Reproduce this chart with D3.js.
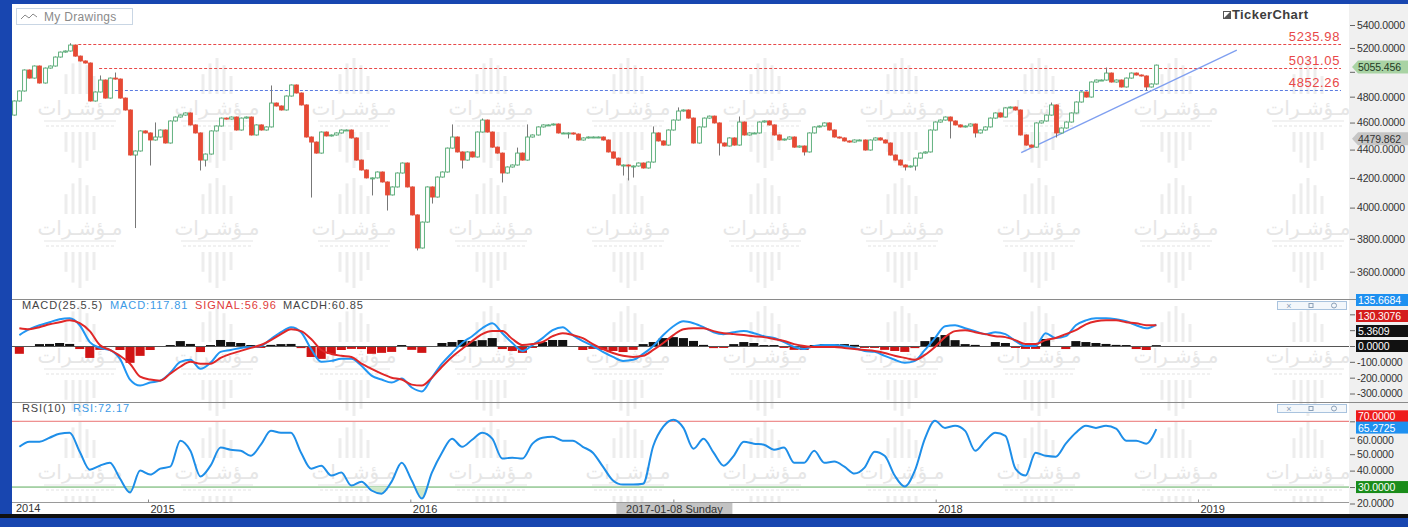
<!DOCTYPE html>
<html><head><meta charset="utf-8">
<script src="https://cdn.jsdelivr.net/npm/d3@7"></script>
<style>
html,body{margin:0;padding:0;background:#fff;overflow:hidden}
svg{display:block;font-family:"Liberation Sans",Arial,sans-serif}
</style></head><body>
<svg id="c" width="1408" height="527"></svg>
<script>
// ---------------- DATA ----------------
const firstWeek = Date.UTC(2014, 5, 29);   // weekly candles, Sundays
const firstOpen = 4657;
const closes = [
4766,4845,5015,4949,5048,4909,5031,5048,5123,5165,
5174,5225,5131,5090,5073,4766,4837,4933,4789,4949,
4941,4789,4696,4361,4390,4537,4522,4470,4492,4544,
4448,4612,4642,4657,4673,4582,4522,4325,4368,4537,
4574,4634,4627,4642,4544,4634,4642,4507,4582,4544,
4567,4750,4727,4696,4805,4893,4829,4735,4492,4455,
4375,4529,4500,4507,4522,4544,4544,4485,4325,4255,
4200,4200,4241,4172,4084,4138,4234,4304,4138,3952,
3743,3906,4138,4070,4206,4241,4411,4492,4383,4325,
4383,4347,4529,4619,4529,4418,4375,4234,4276,4290,
4375,4325,4492,4507,4567,4582,4582,4589,4522,4522,
4522,4514,4470,4485,4492,4492,4492,4470,4383,4339,
4290,4290,4283,4283,4304,4269,4311,4522,4463,4433,
4544,4619,4688,4696,4634,4448,4567,4634,4649,4597,
4448,4426,4485,4433,4604,4507,4522,4522,4604,4612,
4582,4507,4470,4477,4492,4418,4426,4383,4522,4567,
4574,4597,4544,4492,4485,4463,4455,4470,4470,4397,
4470,4485,4470,4448,4361,4325,4290,4276,4283,4339,
4375,4383,4544,4604,4619,4642,4612,4582,4567,4574,
4589,4522,4544,4567,4634,4673,4642,4712,4719,4696,
4507,4433,4418,4597,4612,4657,4735,4522,4559,4604,
4673,4758,4837,4797,4917,4933,4933,4990,4917,4933,
4877,4949,4990,4974,4966,4877,4901,5055.456
];
// notable wick extremes [candle index, price]
const wickHighs = [[11,5236],[17,4966],[20,4990],[28,4597],[51,4885],[87,4582],[93,4627],
  [100,4411],[102,4582],[127,4567],[132,4712],[144,4642],[206,4750],[217,5031]];
const wickLows = [[24,3871],[27,4290],[37,4255],[38,4283],[59,4070],[71,4084],[74,3984],
  [80,3731],[83,4030],[89,4269],[97,4172],[110,4485],[121,4220],[122,4186],[123,4206],
  [140,4361],[157,4361],[177,4255],[179,4255],[186,4485],[191,4492],[207,4492],[225,4853]];

// indicators read every second week (candle index 1,3,5,...,227)
const macdLine = [
69,106,131,150,169,175,131,25,-12,-25,
-81,-212,-250,-231,-219,-169,-100,-87,-144,-106,
-37,-25,-12,-6,0,44,87,119,87,-19,
-100,-94,-81,-81,-125,-187,-212,-231,-206,-262,
-287,-200,-112,-44,19,62,112,144,81,19,
-31,6,50,100,119,69,31,0,-37,-69,
-94,-87,-50,0,69,125,156,144,119,87,
75,87,94,81,62,50,25,-6,-19,0,
6,6,0,-12,-31,-37,-62,-87,-106,-94,
-25,50,125,131,112,94,75,87,75,31,
0,0,81,50,62,131,162,175,175,169,
156,131,112,135.67];
const signalLine = [
112,106,119,137,150,162,144,94,6,-25,
-62,-112,-194,-212,-219,-175,-131,-100,-112,-112,
-75,-50,-31,-12,6,37,75,106,94,44,
-25,-50,-62,-69,-112,-144,-175,-200,-212,-244,
-250,-200,-131,-69,-19,31,75,94,94,44,
6,12,25,62,81,69,50,12,-19,-44,
-62,-69,-62,-25,19,69,106,112,112,94,
81,75,69,62,56,44,31,12,0,-6,
-6,-6,-12,-19,-25,-31,-44,-62,-75,-87,
-56,-6,56,94,100,87,75,62,56,37,
12,12,37,50,75,100,137,156,162,162,
150,144,131,130.31];
const rsiLine = [
54.5,57.6,57.6,60,62.4,63,51.5,40.6,43,44.8,
35.2,26.7,40,37.6,41.2,42.4,58.2,52.1,36.4,43,
54,52.7,52.1,49,55.8,64.2,63,63,50.9,41.2,
43,37,38.8,30.9,33.3,27.9,26,33.3,44.8,34,
23,38.8,50.9,59.4,54.5,58.8,63,59.4,47.3,47.9,
47.3,56.4,60,60.6,58.2,58.2,54.5,50.9,42.4,34,
31.5,31.5,32,55,66.7,70.9,66,53.3,59.4,50.9,
43,49,57.6,56.4,55.8,52.7,54,44.8,44.8,52.1,
44.8,45.5,42.4,38.2,41.8,51.5,49,37,30.3,40,
59.4,70.3,66,67.3,64.2,52.1,58.2,63,61.2,41.2,
37,50.9,49,48.5,56.4,63,67.3,66,67.3,65.5,
58.2,58.2,56.4,65.27];

const priceTicks = [5400,5200,5000,4800,4600,4400,4200,4000,3800,3600];
const priceTickLabels = [5400,5200,4800,4600,4400,4200,4000,3800,3600]; // 5000 sits under the last-price tag
const macdTicks = [200,100,0,-100,-200,-300];
const macdTickLabels = [-100,-200,-300];          // others sit under value tags
const rsiTicks = [70,60,50,40,30,20];
const rsiTickLabels = [60,50,40,20];
const yearTicks = [2015,2016,2017,2018,2019];
const levels = [
  {value:5235.98, from:Date.UTC(2014,8,26), color:"#e84848", label:"5235.98"},
  {value:5031.05, from:Date.UTC(2014,9,25), color:"#e84848", label:"5031.05"},
  {value:4852.26, from:Date.UTC(2014,10,9), color:"#5a7be0", label:"4852.26"}
];
const trendFrom = {date:Date.UTC(2018,3,30), price:4378};
const trendTo   = {date:Date.UTC(2019,1,24), price:5182};
const lastPrice = 5055.456, refPrice = 4479.862;
const macdLegend = {macd:"117.81", signal:"56.96", hist:"60.85"};
const rsiLegend = "72.17";
const macdNow = 135.6684, signalNow = 130.3076, macdHistNow = 5.3609, rsiNow = 65.2725;
const cursorDate = Date.UTC(2017,0,8), cursorLabel = "2017-01-08 Sunday";
const watermarkText = "مـؤشـرات";

// ---------------- SETUP ----------------
const W = 1408, H = 527, plotL = 12, plotR = 1349;
const svg = d3.select("#c");
const dates = closes.map((c,i)=> new Date(firstWeek + i*7*864e5));
const x = d3.scaleUtc().domain([new Date(Date.UTC(2015,0,1)), new Date(Date.UTC(2019,0,1))]).range([148,1198]);
const yP = d3.scaleLog().domain([3600,5400]).range([271.7,25]);
const yM = d3.scaleLinear().domain([-300,0]).range([393.5,346]);
const yR = d3.scaleLinear().domain([20,70]).range([503.5,421.3]);

svg.append("rect").attr("width",W).attr("height",H).attr("fill","#fff");
svg.append("rect").attr("x",plotR).attr("y",4).attr("width",W-plotR).attr("height",510).attr("fill","#f0f0f0");

const defs = svg.append("defs");
function clip(id,y,h){ defs.append("clipPath").attr("id",id).append("rect").attr("x",plotL).attr("y",y).attr("width",plotR-plotL).attr("height",h); }
clip("cMain",5,293); clip("cMacd",300,101); clip("cRsi",403,99);
clip("cAll",5,498);

// ---------------- WATERMARKS ----------------
const wm = svg.append("g").attr("clip-path","url(#cAll)");
const wmCols = [80,217,354,491,628,765,902,1039,1176,1308];
const wmRows = [108,228,356,472];
const barDx = [-14,-7,0,7,14], barH = [0.55,0.85,1,0.8,0.5];
wmCols.forEach(cx=>{
  wmRows.forEach(cy=>{
    wm.append("text").attr("x",cx).attr("y",cy+7).attr("text-anchor","middle")
      .attr("font-size",20).attr("fill","#e6e6e6").attr("font-family","'DejaVu Sans',sans-serif").text(watermarkText);
    wm.append("line").attr("x1",cx-36).attr("x2",cx+36).attr("y1",cy+13).attr("y2",cy+13).attr("stroke","#eeeeee").attr("stroke-width",1.5);
    wm.append("line").attr("x1",cx-34).attr("x2",cx+34).attr("y1",cy+18).attr("y2",cy+18).attr("stroke","#f1f1f1").attr("stroke-width",2).attr("stroke-dasharray","3,2");
    barDx.forEach((dx,k)=>{
      const h = 36*barH[k];
      wm.append("rect").attr("x",cx+dx-1.5).attr("y",cy-14-h).attr("width",3).attr("height",h).attr("fill","#ededed");
      wm.append("rect").attr("x",cx+dx-1.5).attr("y",cy+24).attr("width",3).attr("height",h).attr("fill","#ededed");
    });
  });
});

// ---------------- PANEL FRAMES ----------------
svg.append("line").attr("x1",plotL).attr("x2",W).attr("y1",299.5).attr("y2",299.5).attr("stroke","#8a8a8a");
svg.append("line").attr("x1",plotL).attr("x2",W).attr("y1",402.5).attr("y2",402.5).attr("stroke","#8a8a8a");
svg.append("line").attr("x1",plotL).attr("x2",plotR).attr("y1",502.5).attr("y2",502.5).attr("stroke","#9a9a9a");

// ---------------- MAIN PANEL ----------------
const gMain = svg.append("g").attr("clip-path","url(#cMain)");
levels.forEach(l=>{
  gMain.append("line").attr("x1",x(new Date(l.from))).attr("x2",1341)
    .attr("y1",Math.round(yP(l.value))+0.5).attr("y2",Math.round(yP(l.value))+0.5)
    .attr("stroke",l.color).attr("stroke-width",1).attr("stroke-dasharray","3,2");
  svg.append("text").attr("x",1340).attr("y",yP(l.value)-3).attr("text-anchor","end")
    .attr("font-size",13).attr("letter-spacing",0.6).attr("fill","#e84848").text(l.label);
});
gMain.append("line").attr("x1",x(new Date(trendFrom.date))).attr("y1",yP(trendFrom.price))
  .attr("x2",x(new Date(trendTo.date))).attr("y2",yP(trendTo.price))
  .attr("stroke","#7f9ff0").attr("stroke-width",1.3);

const hiMap = new Map(wickHighs), loMap = new Map(wickLows);
const candles = closes.map((c,i)=>{
  const o = i===0 ? firstOpen : closes[i-1];
  let h = Math.max(o,c), l = Math.min(o,c);
  if (hiMap.has(i)) h = Math.max(h, hiMap.get(i));
  if (loMap.has(i)) l = Math.min(l, loMap.get(i));
  return {d:dates[i], o, c, h, l};
});
const bw = 3.8;
const cg = gMain.append("g");
cg.selectAll("line.w").data(candles).join("line")
  .attr("x1",d=>Math.round(x(d.d))+0.5).attr("x2",d=>Math.round(x(d.d))+0.5)
  .attr("y1",d=>yP(d.h)-0.5).attr("y2",d=>yP(d.l)+0.5)
  .attr("stroke","#777").attr("stroke-width",1);
cg.selectAll("rect.b").data(candles).join("rect")
  .attr("x",d=>Math.round(x(d.d))+0.5-bw/2)
  .attr("y",d=>yP(Math.max(d.o,d.c)))
  .attr("width",bw)
  .attr("height",d=>Math.max(1,yP(Math.min(d.o,d.c))-yP(Math.max(d.o,d.c))))
  .attr("fill",d=>d.c>=d.o?"#ffffff":"#e64a35")
  .attr("stroke",d=>d.c>=d.o?"#4fa870":"#e64a35").attr("stroke-width",0.9);

// My Drawings button
svg.append("rect").attr("x",16.5).attr("y",8.5).attr("width",116).attr("height",16).attr("fill","#fff").attr("stroke","#c9d6e4");
svg.append("polyline").attr("points","21,19 25,15 29,18 33,14 37,17").attr("fill","none").attr("stroke","#8a8a8a").attr("stroke-width",1);
svg.append("text").attr("x",44).attr("y",21).attr("font-size",12).attr("fill","#8a8a8a").attr("letter-spacing",0.3).text("My Drawings");
// TickerChart logo
svg.append("rect").attr("x",1223.5).attr("y",11.5).attr("width",7).attr("height",7).attr("fill","#fff").attr("stroke","#555");
svg.append("path").attr("d","M1224,18 L1230,12 L1230,18 Z").attr("fill","#555");
svg.append("text").attr("x",1232).attr("y",19).attr("font-size",13).attr("font-weight","bold").attr("fill","#3d3d3d").attr("letter-spacing",0.4).text("TickerChart");

// ---------------- MACD PANEL ----------------
const gM = svg.append("g").attr("clip-path","url(#cMacd)");
const idx = macdLine.map((v,k)=>2*k+1);
const sx = idx.map(i=>x(dates[i]));
const step = x(dates[2]) - x(dates[0]);
gM.append("line").attr("x1",plotL).attr("x2",plotR).attr("y1",yM(0)+0.5).attr("y2",yM(0)+0.5).attr("stroke","#555");
const hist = macdLine.map((v,k)=>v - signalLine[k]);
gM.selectAll("rect.h").data(hist).join("rect")
  .attr("x",(v,k)=>sx[k]-step/2+0.5).attr("width",step-1)
  .attr("y",v=>v>=0?yM(v):yM(0)+1).attr("height",v=>Math.abs(yM(v)-yM(0)))
  .attr("fill",v=>v>=0?"#111":"#d01414");
const lineM = d3.line().x((v,k)=>sx[k]).y(v=>yM(v)).curve(d3.curveMonotoneX);
gM.append("path").attr("d",lineM(macdLine)).attr("fill","none").attr("stroke","#2196f3").attr("stroke-width",2);
gM.append("path").attr("d",lineM(signalLine)).attr("fill","none").attr("stroke","#e02828").attr("stroke-width",2);
const lg = svg.append("text").attr("x",22).attr("y",309).attr("font-size",11).attr("letter-spacing",0.9);
lg.append("tspan").attr("fill","#444").text("MACD(25.5.5)");
lg.append("tspan").attr("x",110).attr("fill","#3b9ae6").text("MACD:"+macdLegend.macd);
lg.append("tspan").attr("x",195).attr("fill","#e03a3a").text("SIGNAL:"+macdLegend.signal);
lg.append("tspan").attr("x",283).attr("fill","#444").text("MACDH:"+macdLegend.hist);

// ---------------- RSI PANEL ----------------
const gR = svg.append("g").attr("clip-path","url(#cRsi)");
gR.append("line").attr("x1",plotL).attr("x2",plotR).attr("y1",yR(70)).attr("y2",yR(70)).attr("stroke","#e86464");
gR.append("line").attr("x1",plotL).attr("x2",plotR).attr("y1",yR(30)).attr("y2",yR(30)).attr("stroke","#5aaa5a");
defs.append("clipPath").attr("id","below30").append("rect").attr("x",plotL).attr("y",yR(30)).attr("width",plotR-plotL).attr("height",40);
defs.append("clipPath").attr("id","above70").append("rect").attr("x",plotL).attr("y",403).attr("width",plotR-plotL).attr("height",yR(70)-403);
const area30 = d3.area().x((v,k)=>sx[k]).y0(yR(30)).y1(v=>yR(v)).curve(d3.curveMonotoneX);
const area70 = d3.area().x((v,k)=>sx[k]).y0(yR(70)).y1(v=>yR(v)).curve(d3.curveMonotoneX);
gR.append("g").attr("clip-path","url(#below30)").append("path").attr("d",area30(rsiLine)).attr("fill","#cfe8c9");
gR.append("g").attr("clip-path","url(#above70)").append("path").attr("d",area70(rsiLine)).attr("fill","#f6d0d0");
const lineR = d3.line().x((v,k)=>sx[k]).y(v=>yR(v)).curve(d3.curveMonotoneX);
gR.append("path").attr("d",lineR(rsiLine)).attr("fill","none").attr("stroke","#1e8ee8").attr("stroke-width",2);
const lr = svg.append("text").attr("x",22).attr("y",412).attr("font-size",11).attr("letter-spacing",0.9);
lr.append("tspan").attr("fill","#444").text("RSI(10)");
lr.append("tspan").attr("x",73).attr("fill","#3b9ae6").text("RSI:"+rsiLegend);

// panel buttons
[300.5,403.5].forEach(yy=>{
  svg.append("rect").attr("x",1277.5).attr("y",yy+1).attr("width",69).attr("height",8).attr("fill","#f3f7fb").attr("stroke","#a9c3de");
  svg.append("text").attr("x",1289).attr("y",yy+8.5).attr("text-anchor","middle").attr("font-size",9).attr("fill","#8aa0b8").text("×");
  svg.append("rect").attr("x",1309).attr("y",yy+3).attr("width",4).attr("height",4).attr("fill","none").attr("stroke","#8aa0b8");
  svg.append("circle").attr("cx",1334).attr("cy",yy+5).attr("r",2.5).attr("fill","none").attr("stroke","#8aa0b8");
});

// ---------------- AXES ----------------
const fmt4 = d=>d.toFixed(4);
function styleAxis(g){
  g.select(".domain").remove();
  g.selectAll("line").attr("stroke","#666");
  g.selectAll("text").attr("font-size",10.5).attr("letter-spacing",-0.2).attr("fill","#333").attr("font-family","'Liberation Sans',Arial,sans-serif");
}
svg.append("g").attr("transform",`translate(${plotR+1},0)`)
  .call(d3.axisRight(yP).tickValues(priceTicks).tickFormat(d=>priceTickLabels.includes(d)?fmt4(d):"").tickSize(5).tickPadding(2)).call(styleAxis);
svg.append("g").attr("transform",`translate(${plotR+1},0)`)
  .call(d3.axisRight(yM).tickValues(macdTicks).tickFormat(d=>macdTickLabels.includes(d)?fmt4(d):"").tickSize(5).tickPadding(2)).call(styleAxis);
const rsiAxis = svg.append("g").attr("transform",`translate(${plotR+1},0)`)
  .call(d3.axisRight(yR).tickValues(rsiTicks).tickFormat(d=>rsiTickLabels.includes(d)?fmt4(d):"").tickSize(5).tickPadding(2)).call(styleAxis);
rsiAxis.selectAll(".tick").filter(d=>d===60).select("text").attr("dy","0.55em");

const cursorYear = new Date(cursorDate).getUTCFullYear();
const xa = svg.append("g").attr("transform","translate(0,502.5)")
  .call(d3.axisBottom(x).tickValues(yearTicks.map(y=>new Date(Date.UTC(y,0,1))))
    .tickFormat(d=>d.getUTCFullYear()===cursorYear?"":d3.utcFormat("%Y")(d)).tickSize(-3).tickPadding(4));
xa.select(".domain").remove();
xa.selectAll("line").attr("stroke","#888");
xa.selectAll("text").attr("text-anchor","start").attr("dx",2).attr("dy","0.55em").attr("font-size",11).attr("fill","#333");
svg.append("text").attr("x",16).attr("y",512).attr("font-size",11).attr("fill","#333").text("2014");
// cursor date box
const cur = new Date(cursorDate);
svg.append("rect").attr("x",x(cur)-62).attr("y",503).attr("width",116).attr("height",11).attr("fill","#c3c3c3");
svg.append("text").attr("x",x(cur)-4).attr("y",512.5).attr("text-anchor","middle").attr("font-size",11).attr("fill","#333").text(cursorLabel);

// ---------------- VALUE TAGS ----------------
function tag(yc, txt, bg, fg, arrow){
  const g = svg.append("g");
  if (arrow) g.append("path").attr("d",`M${plotR+3},${yc} L${plotR+9},${yc-6.5} L${W},${yc-6.5} L${W},${yc+6.5} L${plotR+9},${yc+6.5} Z`).attr("fill",bg);
  else g.append("rect").attr("x",plotR+7).attr("y",yc-6).attr("width",W-plotR-7).attr("height",12).attr("fill",bg);
  g.append("text").attr("x",plotR+9).attr("y",yc+4).attr("font-size",10.5).attr("letter-spacing",-0.1).attr("fill",fg).text(txt);
}
tag(yP(lastPrice)+2, lastPrice.toFixed(3), "#a9d3a4", "#1f3a1f", true);
tag(yP(refPrice), refPrice.toFixed(3), "#c6c6c6", "#333", true);
tag(yM(0)-46, macdNow.toFixed(4), "#1e90f0", "#fff", false);
tag(yM(0)-30, signalNow.toFixed(4), "#d41c1c", "#fff", false);
tag(yM(0)-15, macdHistNow.toFixed(4), "#111", "#fff", false);
tag(yM(0), (0).toFixed(4), "#111", "#fff", false);
tag(yR(70)-5, (70).toFixed(4), "#ee1c1c", "#fff", false);
tag(yR(rsiNow)-1.5, rsiNow.toFixed(4), "#1e90f0", "#fff", false);
tag(yR(30), (30).toFixed(4), "#1a8c1a", "#fff", false);

// ---------------- OUTER FRAME ----------------
svg.append("rect").attr("x",0).attr("y",0).attr("width",W).attr("height",4).attr("fill","#1846b0");
svg.append("rect").attr("x",0).attr("y",0).attr("width",12).attr("height",H).attr("fill","#1846b0");
svg.append("rect").attr("x",0).attr("y",514).attr("width",W).attr("height",4).attr("fill","#111");
svg.append("rect").attr("x",0).attr("y",518).attr("width",W).attr("height",9).attr("fill","#1846b0");
</script></body></html>
